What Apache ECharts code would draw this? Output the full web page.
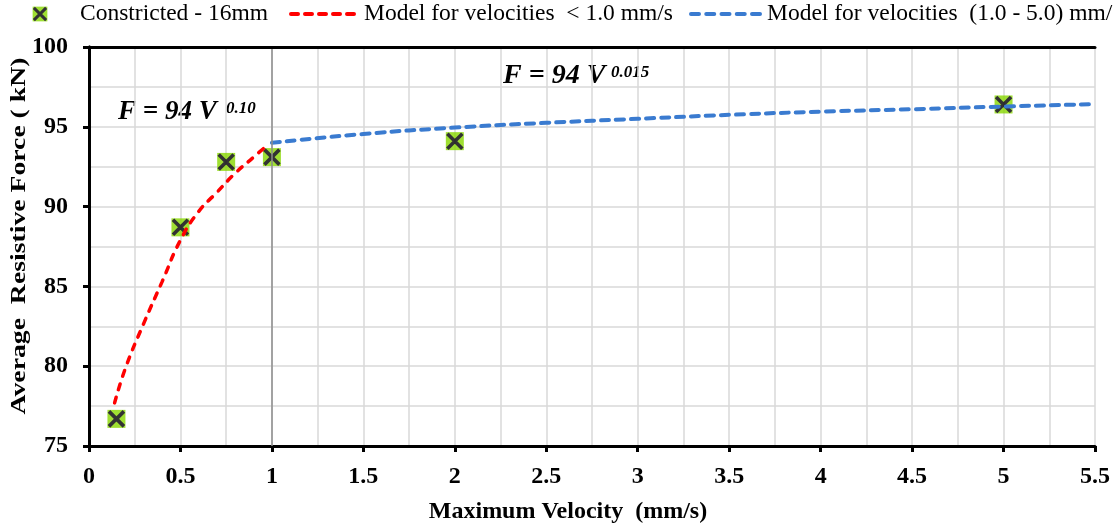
<!DOCTYPE html>
<html>
<head>
<meta charset="utf-8">
<script src="https://cdn.jsdelivr.net/npm/echarts@6/dist/echarts.min.js"></script>
<style>
html,body{margin:0;padding:0;background:#fff;}
#chart{width:1113px;height:530px;}
</style>
</head>
<body>
<div id="chart"></div>
<script>
// ---- data ----
const measuredName = 'Constricted - 16mm';
const measuredX = [0.15, 0.5, 0.75, 1.0, 2.0, 5.0];
const measuredY = [76.7, 88.7, 92.8, 93.1, 94.1, 96.4];

const lowModelName = 'Model for velocities  < 1.0 mm/s';
const lowModelX = [0.14, 0.2, 0.3, 0.4, 0.5, 0.6, 0.7, 0.8, 0.9, 0.98];
const lowModelY = [77.7, 79.9, 82.7, 85.3, 87.9, 89.7, 90.9, 92.1, 93.1, 93.9];

const highModelName = 'Model for velocities  (1.0 - 5.0) mm/s';
const highModelX = [1.0, 1.5, 2.0, 2.5, 3.0, 3.5, 4.0, 4.5, 5.0, 5.5];
const highModelY = [94.0, 94.55, 94.95, 95.25, 95.5, 95.75, 95.95, 96.1, 96.27, 96.42];

const xTitle = 'Maximum Velocity  (mm/s)';
const yTitle = 'Average  Resistive Force ( kN)';
const eq1 = 'F = 94 V', eq1Exp = '0.10';
const eq2 = 'F = 94 V', eq2Exp = '0.015';
const dividerX = 1.0;

// ---- build ----
const zip = (xs, ys) => xs.map((x, i) => [x, ys[i]]);
const FONT = "'Liberation Serif', 'Times New Roman', serif";
const RED = '#ff0000', BLUE = '#3a7bd0', GREEN = '#88d800';

const svgUrl = s => 'image://data:image/svg+xml;charset=utf-8,' + encodeURIComponent(s);
const markerIcon = svgUrl("<svg xmlns='http://www.w3.org/2000/svg' width='22' height='22'>" +
  "<rect x='2' y='2' width='18' height='18' fill='" + GREEN + "'/>" +
  "<path d='M3.5 3.5L18.5 18.5M18.5 3.5L3.5 18.5' stroke='#000' stroke-width='3.6'/></svg>");
const dashIcon = (color, w, d, g) => svgUrl("<svg xmlns='http://www.w3.org/2000/svg' width='" + w + "' height='6'>" +
  "<line x1='2' y1='3' x2='" + (w - 2) + "' y2='3' stroke='" + color + "' stroke-width='4' stroke-linecap='round' stroke-dasharray='" + d + " " + g + "'/></svg>");

const chart = echarts.init(document.getElementById('chart'), null, {renderer: 'canvas'});
const gridLine = {color: '#d9d9d9', width: 1.5};
const legendText = pad => ({fontFamily: FONT, fontSize: 23.5, color: '#000', padding: [0, 0, 0, pad]});
const borderAxis = {
  min: null, max: null, axisLine: {show: true, lineStyle: {color: '#000', width: 3}},
  axisTick: {show: false}, axisLabel: {show: false}, splitLine: {show: false}, z: 5
};

chart.setOption({
  animation: false,
  backgroundColor: '#fff',
  textStyle: {fontFamily: FONT},
  grid: {left: 89, right: 16, top: 47, bottom: 84, show: false},
  legend: [
    {data: [{name: measuredName, icon: markerIcon}], left: 31, top: 2, padding: 0,
     itemWidth: 18, itemHeight: 18, textStyle: legendText(26)},
    {data: [{name: lowModelName, icon: dashIcon(RED, 68, 7, 7)}], left: 289, top: 2, padding: 0,
     itemWidth: 68, itemHeight: 6, textStyle: legendText(2)},
    {data: [{name: highModelName, icon: dashIcon(BLUE, 73, 8, 7.25)}], left: 689, top: 2, padding: 0,
     itemWidth: 73, itemHeight: 6, textStyle: legendText(0)}
  ],
  xAxis: [{
    type: 'value', min: 0, max: 5.5, interval: 0.5,
    name: xTitle, nameLocation: 'middle', nameGap: 54,
    nameTextStyle: {fontFamily: FONT, fontSize: 24, fontWeight: 'bold', color: '#000', padding: [0, 48, 0, 0]},
    axisLine: {show: true, lineStyle: {color: '#000', width: 3}},
    axisTick: {show: true, length: 6, lineStyle: {color: '#000', width: 3}},
    axisLabel: {fontFamily: FONT, fontSize: 24, fontWeight: 'bold', color: '#000', margin: 19},
    splitLine: {show: true, lineStyle: gridLine},
    minorTick: {show: false, splitNumber: 2},
    minorSplitLine: {show: true, lineStyle: gridLine}
  }, Object.assign({type: 'value', position: 'top'}, borderAxis, {min: 0, max: 5.5})],
  yAxis: [{
    type: 'value', min: 75, max: 100, interval: 5,
    axisLine: {show: true, lineStyle: {color: '#000', width: 3}},
    axisTick: {show: true, length: 6, lineStyle: {color: '#000', width: 3}},
    axisLabel: {fontFamily: FONT, fontSize: 24, fontWeight: 'bold', color: '#000', margin: 21},
    splitLine: {show: true, lineStyle: gridLine},
    minorTick: {show: false, splitNumber: 2},
    minorSplitLine: {show: true, lineStyle: gridLine}
  }, Object.assign({type: 'value', position: 'right'}, borderAxis, {min: 75, max: 100})],
  graphic: [
    {type: 'text', x: 19, y: 236, rotation: Math.PI / 2, scaleX: 1.26, silent: true,
     style: {text: yTitle, font: "bold 22px " + FONT, fill: '#000', align: 'center', verticalAlign: 'middle'}},
    {type: 'text', left: 118, top: 99, silent: true,
     style: {text: eq1, font: "italic bold 27px " + FONT, fill: '#000'}},
    {type: 'text', left: 226, top: 100, silent: true,
     style: {text: eq1Exp, font: "italic bold 17px " + FONT, fill: '#000'}},
    {type: 'text', left: 503, top: 62, silent: true,
     style: {text: eq2, font: "italic bold 28px " + FONT, fill: '#000'}},
    {type: 'text', left: 611, top: 64, silent: true,
     style: {text: eq2Exp, font: "italic bold 17px " + FONT, fill: '#000'}}
  ],
  series: [
    {name: measuredName, type: 'scatter', data: zip(measuredX, measuredY),
     symbol: markerIcon, symbolSize: 22, z: 2},
    {name: lowModelName, type: 'line', data: zip(lowModelX, lowModelY), smooth: true,
     showSymbol: false, symbol: 'none', z: 3,
     itemStyle: {color: RED},
     lineStyle: {color: RED, width: 3.5, type: [6, 8], cap: 'round'}},
    {name: highModelName, type: 'line', data: zip(highModelX, highModelY), smooth: true,
     showSymbol: false, symbol: 'none', z: 3,
     itemStyle: {color: BLUE},
     lineStyle: {color: BLUE, width: 4, type: [8, 7], cap: 'round'},
     markLine: {silent: true, symbol: 'none', label: {show: false},
       lineStyle: {color: '#8c8c8c', width: 1.5, type: 'solid'},
       data: [{xAxis: dividerX}]}}
  ]
});
</script>
</body>
</html>
